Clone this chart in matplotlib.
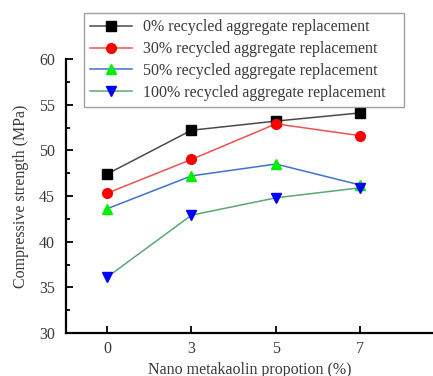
import matplotlib.pyplot as plt
from matplotlib.ticker import MultipleLocator

plt.rcParams['font.family'] = ['Liberation Serif', 'DejaVu Serif']

nmk = ['0', '3', '5', '7']  # nano metakaolin, %
rc0 = [47.4, 52.2, 53.2, 54.1]
rc30 = [45.3, 49.0, 52.9, 51.6]
rc50 = [43.6, 47.2, 48.5, 46.2]
rc100 = [36.1, 42.9, 44.8, 45.9]

series = [
    (rc0, '0% recycled aggregate replacement', '#4a4a4a', 's', 'black'),
    (rc30, '30% recycled aggregate replacement', '#f05050', 'o', '#ff0000'),
    (rc50, '50% recycled aggregate replacement', '#3f72d0', '^', '#00ee00'),
    (rc100, '100% recycled aggregate replacement', '#5aa874', 'v', '#0000ff'),
]

txt = '#3a3a3a'
fig = plt.figure(figsize=(4.33, 3.76), dpi=100)
ax = fig.add_axes([66/433, 43/376, 367/433, 274/376])

xs = range(len(nmk))
for ys, lab, lc, mk, mc in series:
    ax.plot(xs, ys, color=lc, lw=1.1, marker=mk, ms=7, mfc=mc, mec=mc, label=lab)

ax.set_ylim(30, 60)
ax.set_xlim(-0.485, 3.86)
ax.set_xticks(list(xs))
ax.set_xticklabels(nmk)
ax.yaxis.set_major_locator(MultipleLocator(5))
ax.yaxis.set_minor_locator(MultipleLocator(2.5))
ax.tick_params(direction='in', width=1.3, length=5, labelsize=11.5, colors='black', labelcolor=txt)
ax.tick_params(axis='y', pad=8)
ax.tick_params(axis='x', pad=6)
ax.tick_params(which='minor', direction='in', width=1.3, length=3)
for s in ['top', 'right']:
    ax.spines[s].set_visible(False)
for s in ['left', 'bottom']:
    ax.spines[s].set_linewidth(1.6)

ax.set_xlabel('Nano metakaolin propotion (%)', fontsize=11.5, color=txt, labelpad=3)
ax.set_ylabel('Compressive strength (MPa)', fontsize=11.5, color=txt, labelpad=7)

# legend box stretched to a fixed width, sitting over the top of the axes
leg = fig.legend(loc='upper left', bbox_to_anchor=(84/433, 1 - 105/376, 320/433, 92/376),
                 mode='expand', borderaxespad=0,
                 fontsize=11.5, frameon=True, fancybox=False, edgecolor='#888888',
                 handlelength=2.6, handletextpad=0.7, labelspacing=0.36, borderpad=0.4)
for t in leg.get_texts():
    t.set_color(txt)

fig.savefig('out.png', dpi=100)
